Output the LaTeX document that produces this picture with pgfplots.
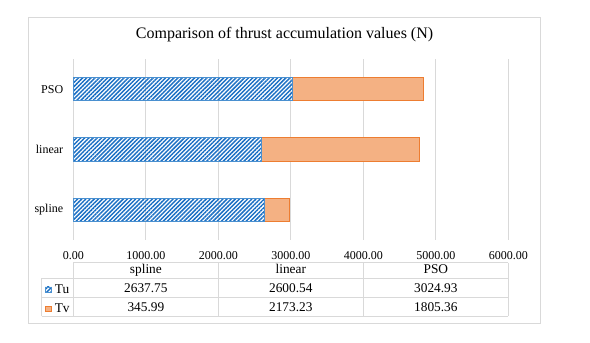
\documentclass[border=0pt]{standalone}
\usepackage{fontspec}
\setmainfont{Liberation Serif}
\usepackage{pgfplots}
\pgfplotsset{compat=1.18}
\usetikzlibrary{patterns.meta}
\definecolor{tublue}{HTML}{1A6FC4}
\definecolor{tuedge}{HTML}{4A90D0}
\definecolor{tvfill}{HTML}{F4B183}
\definecolor{tvedge}{HTML}{ED7D31}
\definecolor{gridgray}{HTML}{D9D9D9}
\pgfplotsset{keyimg/.style={legend image code/.code={\draw[##1, line width=0.4pt] (0pt,-2.15pt) rectangle (4.3pt,2.15pt); \path (6.8pt,0pt);}}}
\begin{document}
\begin{tikzpicture}
\path[fill=white] (0,0) rectangle (442.5pt,257.25pt);
\draw[gridgray, line width=0.75pt] (21.2pt,14.8pt) rectangle (405.5pt,244.3pt);
\node[font=\rmfamily\fontsize{12}{14}\selectfont, inner sep=0pt] at (213.4pt,231pt) {Comparison of thrust accumulation values (N)};
\begin{axis}[
  at={(55pt,77.25pt)}, anchor=south west,
  scale only axis, width=326.25pt, height=135.75pt,
  xbar stacked, bar width=17.55pt,
  xmin=0, xmax=6000, ymin=-0.5, ymax=2.5,
  xtick={0,1000,2000,3000,4000,5000,6000},
  ytick={0,1,2}, yticklabels={spline,linear,PSO},
  axis line style={draw=none},
  major tick length=0pt, tick style={draw=none},
  xmajorgrids, major grid style={gridgray, line width=0.75pt},
  clip=false,
  yticklabel style={font=\rmfamily\fontsize{9}{10}\selectfont, anchor=east, inner sep=0pt, xshift=-7.4pt},
  xticklabel style={font=\rmfamily\fontsize{9}{10}\selectfont, anchor=center, inner sep=0pt, yshift=-11.4pt, /pgf/number format/.cd, fixed, fixed zerofill, precision=2, 1000 sep={}, assume math mode=true},
  legend cell align=left,
  legend style={draw=none, fill=none, at={(axis description cs:-0.0651,-0.2228)}, anchor=north west, inner sep=0pt, outer sep=0pt, row sep=0pt, column sep=0pt, font=\rmfamily\fontsize{10}{11}\selectfont, nodes={inner sep=0pt, minimum height=14.2pt}},
]
\addplot[draw=tuedge, line width=0.6pt, pattern={Lines[angle=45,distance=2.2pt,line width=1.1pt]}, pattern color=tublue, keyimg]
  coordinates {(2637.75,0) (2600.54,1) (3024.93,2)};
\addplot[draw=tvedge, fill=tvfill, line width=0.75pt, keyimg]
  coordinates {(345.99,0) (2173.23,1) (1805.36,2)};
\legend{Tu,Tv}
\end{axis}
\begin{scope}[gridgray, line width=0.75pt]
\draw (55pt,60.2pt) -- (381.2pt,60.2pt);
\draw (31.3pt,48.5pt) -- (381.2pt,48.5pt);
\draw (31.3pt,34.3pt) -- (381.2pt,34.3pt);
\draw (31.3pt,20pt) -- (381.2pt,20pt);
\draw (31.3pt,48.5pt) -- (31.3pt,20pt);
\draw (55pt,60.2pt) -- (55pt,20pt);
\draw (163.7pt,60.2pt) -- (163.7pt,20pt);
\draw (272.5pt,60.2pt) -- (272.5pt,20pt);
\draw (381.2pt,60.2pt) -- (381.2pt,20pt);
\end{scope}
\begin{scope}[every node/.style={font=\rmfamily\fontsize{10}{11}\selectfont, inner sep=0pt, anchor=base}]
\node at (109.4pt,52pt) {spline};
\node at (218.1pt,52pt) {linear};
\node at (326.9pt,52pt) {PSO};
\node at (109.4pt,37.9pt) {2637.75};
\node at (218.1pt,37.9pt) {2600.54};
\node at (326.9pt,37.9pt) {3024.93};
\node at (109.4pt,23.65pt) {345.99};
\node at (218.1pt,23.65pt) {2173.23};
\node at (326.9pt,23.65pt) {1805.36};
\end{scope}
\pgfresetboundingbox
\path[use as bounding box] (0,0) rectangle (442.5pt,257.25pt);
\end{tikzpicture}
\end{document}
